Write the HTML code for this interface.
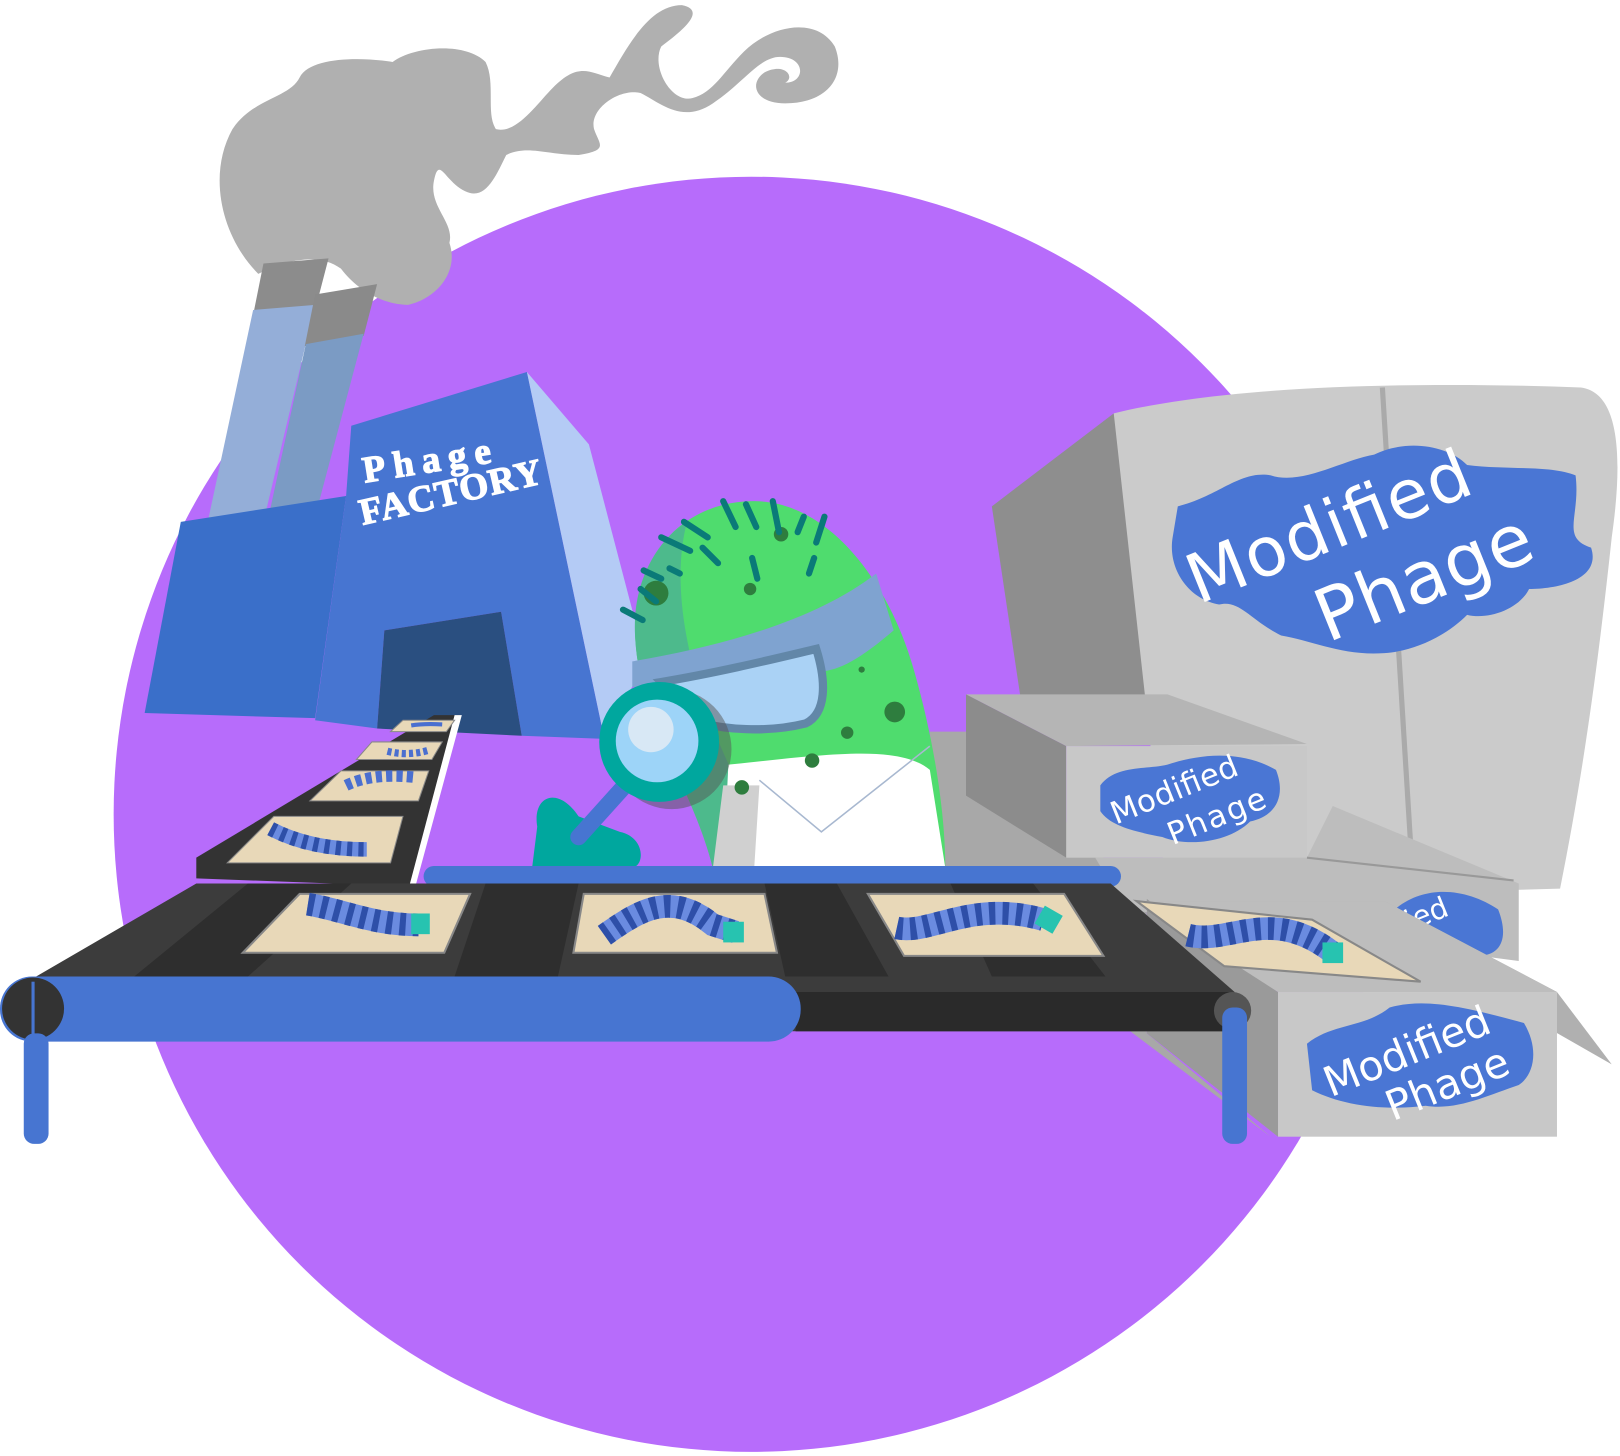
<!DOCTYPE html>
<html><head><meta charset="utf-8"><style>html,body{margin:0;padding:0;background:#fff}svg{display:block}</style></head><body>
<svg width="1620" height="1456" viewBox="0 0 1568 1409" preserveAspectRatio="none" xmlns="http://www.w3.org/2000/svg">
<circle cx="727" cy="788" r="617" fill="#b76cfb"/>
<!-- smoke -->
<path fill="#b0b0b0" d="M250,265 C215,230 200,170 225,125 C245,95 280,95 290,75 C300,55 350,55 380,60 C400,45 450,40 470,60 C480,80 470,110 480,125 C500,130 520,100 535,85 C560,60 570,70 590,75 C610,40 630,5 660,5 C685,10 660,30 640,45 C630,65 650,100 670,95 C690,90 700,70 720,50 C745,25 790,15 808,45 C820,75 800,100 760,100 C730,100 725,80 740,70 C760,60 770,75 760,80 C780,80 780,55 755,55 C735,55 720,80 690,100 C660,120 640,100 620,90 C600,85 570,105 575,125 C580,140 590,145 560,150 C530,150 510,140 490,150 C480,170 470,195 450,185 C430,175 425,150 420,175 C415,200 440,215 435,235 C445,265 420,290 395,295 C370,295 345,280 330,260 C310,245 280,250 250,265 Z"/>
<!-- chimneys -->
<polygon points="255,255 318,250 305,300 245,305" fill="#8c8c8c"/>
<polygon points="245,300 305,295 255,505 200,510" fill="#94aed8"/>
<polygon points="305,285 365,275 352,325 295,335" fill="#8a8a8a"/>
<polygon points="296,333 352,323 305,500 260,500" fill="#7b9bc4"/>
<!-- factory -->
<polygon points="175,505 335,480 305,695 140,690" fill="#3a6fc9"/>
<polygon points="340,412 510,360 585,715 505,712 485,592 372,610 365,705 305,697 335,480" fill="#4775d1"/>
<polygon points="510,360 570,430 625,640 585,715" fill="#b4cbf5"/>
<polygon points="372,610 485,592 505,712 365,705" fill="#2a4f80"/>
<text transform="translate(353,467) rotate(-9)" font-family="Liberation Serif,serif" font-weight="bold" font-size="36" fill="#fff" stroke="#fff" stroke-width="1.2" textLength="125">Phage</text>
<text transform="translate(351,508) rotate(-13)" font-family="Liberation Serif,serif" font-weight="bold" font-size="36" fill="#fff" stroke="#fff" stroke-width="1.2" textLength="180">FACTORY</text>
<!-- big box -->
<polygon points="960,490 1078,400 1130,690 990,690" fill="#8e8e8e"/>
<path d="M1078,400 C1200,370 1400,370 1530,375 C1570,380 1570,450 1560,520 C1545,660 1530,760 1510,860 L1130,870 Z" fill="#cbcbcb"/>
<line x1="1338" y1="375" x2="1368" y2="860" stroke="#aaa" stroke-width="5"/>
<path fill="#4a76d4" d="M1140,490 C1180,480 1200,455 1230,460 C1260,470 1300,445 1330,440 C1360,425 1400,430 1420,450 C1460,455 1500,450 1525,460 C1530,500 1510,520 1540,530 C1550,560 1510,570 1480,570 C1470,590 1440,600 1420,595 C1400,615 1370,630 1340,632 C1300,635 1270,620 1240,615 C1210,600 1200,580 1180,585 C1150,580 1130,550 1135,520 Z"/>
<text transform="translate(1160,585) rotate(-22)" font-family="DejaVu Sans,sans-serif" font-size="66" fill="#fff" textLength="290">Modified</text>
<text transform="translate(1285,622) rotate(-22)" font-family="DejaVu Sans,sans-serif" font-size="70" fill="#fff" textLength="220">Phage</text>
<!-- back gray platform -->
<polygon points="900,708 940,708 1110,870 1110,1000 1230,1100 910,860" fill="#a8a8a8"/>
<!-- middle box -->
<polygon points="935,672 1130,672 1265,720 1032,722" fill="#b5b5b5"/>
<polygon points="935,672 1032,722 1032,830 935,770" fill="#8c8c8c"/>
<rect x="1032" y="722" width="233" height="108" fill="#c8c8c8"/>
<path fill="#4a76d4" d="M1065,760 C1080,740 1110,745 1130,740 C1160,730 1200,725 1235,745 C1245,770 1235,790 1210,795 C1190,815 1150,820 1125,810 C1100,805 1075,800 1065,785 Z"/>
<text transform="translate(1080,798) rotate(-22)" font-family="DejaVu Sans,sans-serif" font-size="30" fill="#fff" textLength="130">Modified</text>
<text transform="translate(1135,818) rotate(-22)" font-family="DejaVu Sans,sans-serif" font-size="30" fill="#fff" textLength="100">Phage</text>
<!-- right lower box -->
<polygon points="1060,830 1265,830 1290,780 1470,855 1470,930 1090,880" fill="#bdbdbd"/>
<line x1="1265" y1="830" x2="1465" y2="852" stroke="#999" stroke-width="2"/>
<path fill="#4a76d4" d="M1350,880 C1380,855 1420,860 1450,880 C1460,905 1455,925 1430,925 C1400,930 1370,915 1350,900 Z"/>
<text transform="translate(1355,905) rotate(-22)" font-family="DejaVu Sans,sans-serif" font-size="28" fill="#fff">fied</text>
<!-- bottom box -->
<polygon points="1110,870 1237,960 1237,1100 1110,1000" fill="#9a9a9a"/>
<polygon points="1340,872 1507,960 1560,1030 1490,990" fill="#b0b0b0"/>
<polygon points="1100,872 1340,872 1507,960 1237,960" fill="#bdbdbd"/>
<polygon points="1100,872 1270,890 1375,950 1185,935" fill="#e8d8b8" stroke="#888" stroke-width="2"/>
<rect x="1237" y="960" width="270" height="140" fill="#c8c8c8"/>
<path fill="#4a76d4" d="M1265,1010 C1290,990 1320,995 1345,975 C1380,965 1420,975 1475,990 C1490,1015 1485,1040 1470,1050 C1440,1060 1410,1075 1380,1070 C1340,1075 1300,1070 1270,1055 Z"/>
<text transform="translate(1288,1062) rotate(-22)" font-family="DejaVu Sans,sans-serif" font-size="40" fill="#fff" textLength="170">Modified</text>
<text transform="translate(1348,1085) rotate(-22)" font-family="DejaVu Sans,sans-serif" font-size="40" fill="#fff" textLength="125">Phage</text>
<!-- character -->
<path d="M690,840 C670,760 620,700 615,620 C610,540 660,485 730,485 C800,485 860,560 885,650 C905,720 915,790 915,840 Z" fill="#4fdc6e"/>
<path d="M690,840 C670,760 620,700 615,620 C610,560 640,520 665,505 C650,560 660,650 715,760 L740,840 Z" fill="#4dba8c"/>
<path d="M612,665 L612,640 C700,625 790,600 848,555 L865,610 C830,640 810,650 790,650 C720,655 660,660 612,665 Z" fill="#7fa3d0"/>
<path d="M640,660 C700,650 760,635 790,628 C800,660 800,690 780,700 C740,710 700,705 680,700 Z" fill="#aad2f5" stroke="#6287a8" stroke-width="8"/>
<path d="M705,740 C800,730 870,720 900,745 L915,840 L700,840 Z" fill="#fff"/>
<path d="M700,760 L735,760 L730,840 L690,840 Z" fill="#d0d0d0"/>
<polyline points="735,755 795,805 900,722" fill="none" stroke="#a8b8d0" stroke-width="1.5"/>
<g fill="#2e7d3e"><circle cx="635" cy="574" r="12"/><circle cx="726" cy="570" r="6"/><circle cx="756" cy="517" r="7"/><circle cx="866" cy="689" r="10"/><circle cx="820" cy="709" r="6"/><circle cx="786" cy="736" r="7"/><circle cx="718" cy="762" r="7"/><circle cx="834" cy="648" r="3"/></g>
<g stroke="#0a7a78" stroke-width="6" stroke-linecap="round" fill="none"><path d="M700,485 L712,510"/><path d="M722,488 L732,510"/><path d="M748,485 L754,515"/><path d="M778,500 L772,515"/><path d="M798,500 L790,525"/><path d="M662,505 L685,520"/><path d="M640,520 L668,533"/><path d="M680,530 L695,545"/><path d="M623,552 L640,560"/><path d="M620,570 L635,582"/><path d="M603,590 L622,600"/><path d="M648,550 L658,555"/><path d="M728,540 L733,560"/><path d="M788,540 L783,555"/></g>
<!-- magnifier -->
<path d="M520,800 C515,770 540,760 560,790 L600,805 C625,810 625,840 610,840 L515,840 Z" fill="#00a79e"/>
<line x1="560" y1="810" x2="605" y2="760" stroke="#4775d1" stroke-width="16" stroke-linecap="round"/>
<circle cx="650" cy="725" r="58" fill="#555" opacity="0.5"/>
<circle cx="638" cy="718" r="58" fill="#00a79e"/>
<circle cx="636" cy="717" r="40" fill="#9dd4f8"/>
<circle cx="630" cy="706" r="22" fill="#d8e8f5"/>
<!-- back conveyor -->
<polygon points="420,692 445,692 400,858 190,850 190,830" fill="#333"/>
<polygon points="440,692 447,692 402,858 396,858" fill="#fff"/>
<polygon points="390,697 440,697 432,708 378,708" fill="#e8d8b8" stroke="#888"/>
<polygon points="360,718 428,718 418,735 345,735" fill="#e8d8b8" stroke="#888"/>
<polygon points="330,746 415,746 405,775 300,775" fill="#e8d8b8" stroke="#888"/>
<polygon points="265,790 390,790 378,835 220,835" fill="#e8d8b8" stroke="#888"/>
<g fill="none"><path d="M398,702 Q410,700 428,701" stroke="#4a6fd0" stroke-width="4"/><path d="M375,727 Q395,732 415,726" stroke="#4a6fd0" stroke-width="7" stroke-dasharray="4 3"/><path d="M335,760 Q360,748 400,752" stroke="#4a6fd0" stroke-width="11" stroke-dasharray="6 4"/><path d="M262,802 Q300,822 355,822" stroke="#6a8be0" stroke-width="14"/><path d="M262,802 Q300,822 355,822" stroke="#2e4fa8" stroke-width="14" stroke-dasharray="5 6"/></g>
<!-- main conveyor -->
<rect x="410" y="838" width="675" height="20" rx="10" fill="#4775d1"/>
<polygon points="35,945 190,855 1075,855 1195,960 1190,998 35,998" fill="#3c3c3c"/>
<polygon points="130,945 240,855 340,855 240,945" fill="#2e2e2e"/>
<polygon points="440,945 470,855 560,855 540,945" fill="#2e2e2e"/>
<polygon points="760,945 740,855 810,855 860,945" fill="#2e2e2e"/>
<polygon points="960,945 920,855 1000,855 1070,945" fill="#2e2e2e"/>
<rect x="770" y="960" width="420" height="38" fill="#2a2a2a"/>
<polygon points="290,865 455,865 430,922 235,922" fill="#e8d8b8" stroke="#888" stroke-width="2"/>
<polygon points="565,865 740,865 752,922 555,922" fill="#e8d8b8" stroke="#888" stroke-width="2"/>
<polygon points="840,865 1030,865 1068,925 875,925" fill="#e8d8b8" stroke="#888" stroke-width="2"/>
<g fill="none">
<path d="M298,875 C330,880 360,895 405,895" stroke="#6a8be0" stroke-width="22"/>
<path d="M585,905 C620,880 650,862 690,895 L712,902" stroke="#6a8be0" stroke-width="22"/>
<path d="M868,898 C900,905 940,870 1010,890" stroke="#6a8be0" stroke-width="22"/>
<path d="M1150,905 C1190,915 1230,875 1290,922" stroke="#6a8be0" stroke-width="22"/>
<path d="M298,875 C330,880 360,895 405,895" stroke="#2e4fa8" stroke-width="22" stroke-dasharray="6 7"/>
<path d="M585,905 C620,880 650,862 690,895 L712,902" stroke="#2e4fa8" stroke-width="22" stroke-dasharray="6 7"/>
<path d="M868,898 C900,905 940,870 1010,890" stroke="#2e4fa8" stroke-width="22" stroke-dasharray="6 7"/>
<path d="M1150,905 C1190,915 1230,875 1290,922" stroke="#2e4fa8" stroke-width="22" stroke-dasharray="6 7"/>
</g>
<g fill="#27c3b0"><rect x="398" y="884" width="18" height="20"/><rect x="700" y="892" width="20" height="20"/><rect x="1005" y="880" width="20" height="20" transform="rotate(30 1015 890)"/><rect x="1280" y="912" width="20" height="20"/></g>
<rect x="0" y="945" width="775" height="63" rx="31" fill="#4775d1"/>
<circle cx="32" cy="976" r="30" fill="#333"/>
<line x1="32" y1="950" x2="32" y2="1002" stroke="#4775d1" stroke-width="3"/>
<circle cx="1193" cy="978" r="18" fill="#555"/>
<rect x="23" y="1000" width="24" height="107" rx="10" fill="#4775d1"/>
<rect x="1183" y="975" width="24" height="132" rx="10" fill="#4775d1"/>
</svg>
</body></html>
